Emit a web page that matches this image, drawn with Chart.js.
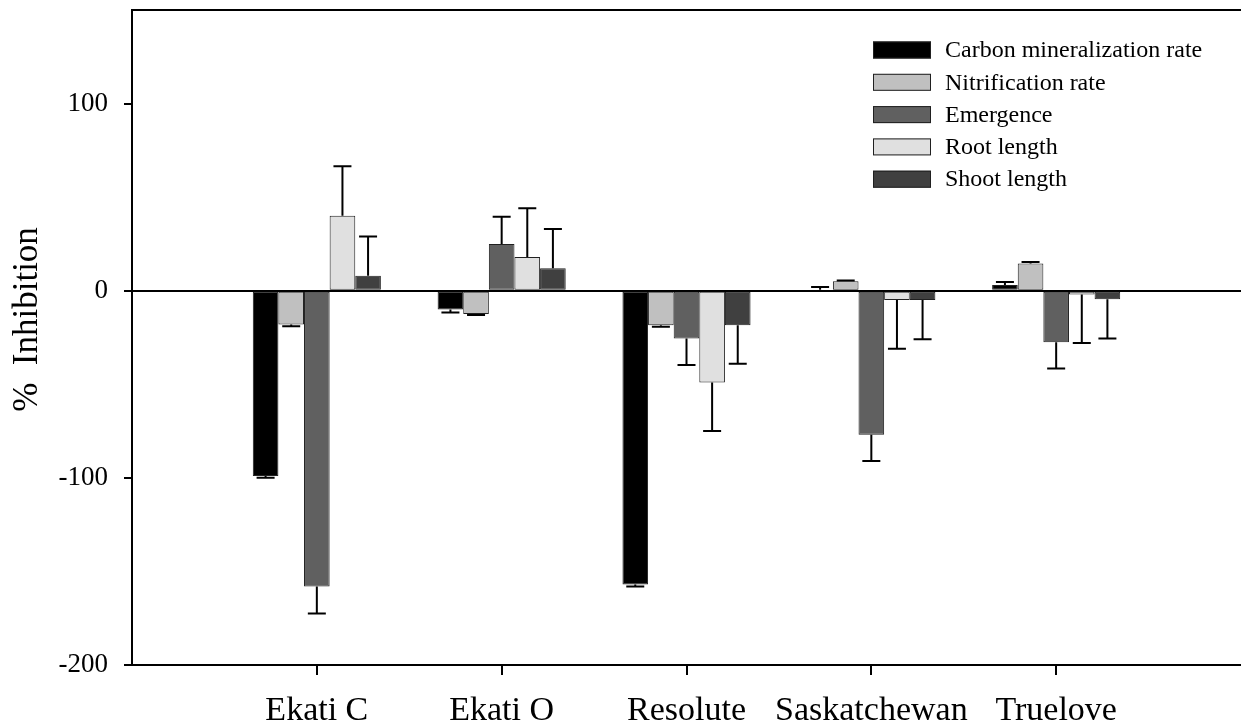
<!DOCTYPE html>
<html lang="en">
<head>
  <meta charset="UTF-8">
  <title>% Inhibition by site</title>
  <script src="https://cdn.jsdelivr.net/npm/chart.js"></script>
  <style>
    body {
      margin: 0;
      background-color: #fff;
    }
    .chart-container {
      position: relative;
      width: 1241px;
      height: 727px;
    }
  </style>
</head>
<body>
  <div class="chart-container">
    <canvas id="inhibitionChart"></canvas>
  </div>

  <script>
    const sites = ['Ekati C', 'Ekati O', 'Resolute', 'Saskatchewan', 'Truelove'];
    const sitePositions = [1, 2, 3, 4, 5];
    const yTicks = [-200, -100, 0, 100];
    const yTitle = '%  Inhibition';

    const seriesNames = ['Carbon mineralization rate', 'Nitrification rate', 'Emergence', 'Root length', 'Shoot length'];

    const carbonMin = [-99, -10, -157, 0.5, 3];
    const nitrification = [-18, -12.5, -18.5, 5, 14.5];
    const emergence = [-158, 25, -25.5, -77, -27.5];
    const rootLength = [40, 18, -49, -5, -2];
    const shootLength = [8, 12, -18.5, -5, -4.5];

    // standard errors, drawn away from zero
    const carbonMinErr = [1, 1.6, 1, 1.5, 1.6];
    const nitrificationErr = [1, 0.5, 0.7, 0.4, 0.8];
    const emergenceErr = [14.5, 14.5, 14.2, 14, 14];
    const rootLengthErr = [26.5, 26, 26, 26, 26];
    const shootLengthErr = [21, 21, 20.5, 21, 21];

    const fills = ['#000000', '#c0c0c0', '#606060', '#e0e0e0', '#404040'];
    const serif = '"Liberation Serif", "Times New Roman", serif';

    const allValues = [carbonMin, nitrification, emergence, rootLength, shootLength];
    const allErrors = [carbonMinErr, nitrificationErr, emergenceErr, rootLengthErr, shootLengthErr];

    const datasets = allValues.map((vals, d) => ({
      label: seriesNames[d],
      data: vals.map((v, i) => ({ x: sitePositions[i], y: v })),
      errors: allErrors[d],
      backgroundColor: fills[d],
      borderColor: '#202020',
      borderWidth: 1,
      borderSkipped: false,
      categoryPercentage: 0.693,
      barPercentage: 1
    }));

    // one-sided error bars with a flat cap
    const errorBars = {
      id: 'errorBars',
      afterDatasetsDraw(chart) {
        const ctx = chart.ctx;
        const y = chart.scales.y;
        ctx.save();
        ctx.strokeStyle = '#000';
        ctx.lineWidth = 2;
        chart.data.datasets.forEach((ds, d) => {
          const meta = chart.getDatasetMeta(d);
          meta.data.forEach((bar, i) => {
            const v = ds.data[i].y;
            const e = ds.errors[i];
            const end = v >= 0 ? v + e : v - e;
            const y0 = y.getPixelForValue(v);
            const y1 = y.getPixelForValue(end);
            ctx.beginPath();
            ctx.moveTo(bar.x, y0);
            ctx.lineTo(bar.x, y1);
            ctx.moveTo(bar.x - 9, y1);
            ctx.lineTo(bar.x + 9, y1);
            ctx.stroke();
          });
        });
        ctx.restore();
      }
    };

    // top frame line, rotated axis title and the legend box in the upper right
    const frameAndLegend = {
      id: 'frameAndLegend',
      afterDraw(chart) {
        const ctx = chart.ctx;
        const area = chart.chartArea;
        ctx.save();
        ctx.strokeStyle = '#000';
        ctx.lineWidth = 2;
        ctx.beginPath();
        ctx.moveTo(area.left - 1, area.top);
        ctx.lineTo(area.right, area.top);
        ctx.stroke();

        ctx.save();
        ctx.translate(37, (area.top + area.bottom) / 2 - 18);
        ctx.rotate(-Math.PI / 2);
        ctx.font = '35px ' + serif;
        ctx.fillStyle = '#000';
        ctx.textAlign = 'center';
        ctx.textBaseline = 'alphabetic';
        ctx.fillText(yTitle, 0, 0);
        ctx.restore();

        const boxX = 873, boxW = 58, boxH = 17;
        const firstRow = 50, rowGap = 32.3;
        ctx.font = '24px ' + serif;
        ctx.textBaseline = 'middle';
        ctx.textAlign = 'left';
        chart.data.datasets.forEach((ds, d) => {
          const cy = firstRow + d * rowGap;
          ctx.fillStyle = ds.backgroundColor;
          ctx.fillRect(boxX, cy - boxH / 2, boxW, boxH);
          ctx.lineWidth = 1;
          ctx.strokeStyle = '#202020';
          ctx.strokeRect(boxX + 0.5, cy - boxH / 2 + 0.5, boxW - 1, boxH - 1);
          ctx.fillStyle = '#000';
          ctx.fillText(ds.label, 945, cy + 1);
        });
        ctx.restore();
      }
    };

    const ctx = document.getElementById('inhibitionChart').getContext('2d');
    new Chart(ctx, {
      type: 'bar',
      data: { datasets: datasets },
      plugins: [errorBars, frameAndLegend],
      options: {
        responsive: true,
        maintainAspectRatio: false,
        animation: false,
        layout: { padding: { top: 10, right: 0, left: 0, bottom: 0 } },
        plugins: {
          legend: { display: false },
          tooltip: { enabled: false }
        },
        scales: {
          x: {
            type: 'linear',
            min: 0,
            max: 6,
            offset: false,
            afterBuildTicks: (scale) => {
              scale.ticks = sitePositions.map(v => ({ value: v }));
            },
            afterFit: (scale) => {
              scale.height = 62;
              scale.paddingLeft = 0;
              scale.paddingRight = 0;
            },
            ticks: {
              callback: (v) => sites[v - 1] || '',
              font: { family: serif, size: 34 },
              color: '#000',
              padding: 16,
              maxRotation: 0,
              autoSkip: false
            },
            grid: {
              offset: false,
              drawOnChartArea: false,
              drawTicks: true,
              tickLength: 10,
              tickColor: '#000',
              lineWidth: 2
            },
            border: { display: true, color: '#000', width: 2 }
          },
          y: {
            min: -200,
            max: 150,
            afterBuildTicks: (scale) => {
              scale.ticks = yTicks.map(v => ({ value: v }));
            },
            afterFit: (scale) => {
              scale.width = 132;
              scale.paddingTop = 0;
              scale.paddingBottom = 0;
            },
            ticks: {
              font: { family: serif, size: 27 },
              color: '#000',
              padding: 16
            },
            grid: {
              drawOnChartArea: true,
              color: (c) => (c.tick && c.tick.value === 0 ? '#000' : 'rgba(0,0,0,0)'),
              tickColor: '#000',
              tickLength: 8,
              lineWidth: 2
            },
            border: { display: true, color: '#000', width: 2 }
          }
        }
      }
    });
  </script>
</body>
</html>
